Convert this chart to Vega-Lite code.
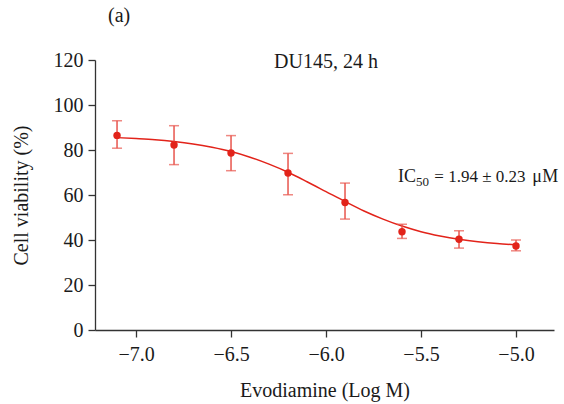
{
  "$schema": "https://vega.github.io/schema/vega-lite/v6.json",
  "width": 459,
  "height": 270,
  "autosize": {"type": "none"},
  "padding": {"left": 95, "top": 60, "right": 10, "bottom": 74},
  "background": "white",
  "config": {
    "view": {"stroke": null},
    "font": "Liberation Serif",
    "axis": {
      "labelFont": "Liberation Serif",
      "titleFont": "Liberation Serif",
      "labelFontSize": 20,
      "titleFontSize": 20,
      "titleFontWeight": "normal",
      "labelColor": "#1a1a1a",
      "titleColor": "#1a1a1a",
      "domainColor": "#333333",
      "tickColor": "#333333",
      "domainWidth": 1.3,
      "tickWidth": 1.3,
      "tickSize": 7,
      "grid": false
    }
  },
  "title": {
    "text": "(a)",
    "anchor": "start",
    "frame": "group",
    "dx": 13,
    "offset": 24,
    "font": "Liberation Serif",
    "fontSize": 20,
    "fontWeight": "normal",
    "color": "#1a1a1a"
  },
  "datasets": {
    "points": [
      {"logc": -7.1, "viability": 86.5, "lo": 80.8, "hi": 93.0},
      {"logc": -6.8, "viability": 82.2, "lo": 73.5, "hi": 90.8},
      {"logc": -6.5, "viability": 78.7, "lo": 70.8, "hi": 86.4},
      {"logc": -6.2, "viability": 69.8, "lo": 60.1, "hi": 78.5},
      {"logc": -5.9, "viability": 56.7, "lo": 49.3, "hi": 65.3},
      {"logc": -5.6, "viability": 43.7, "lo": 40.7, "hi": 47.0},
      {"logc": -5.3, "viability": 40.3, "lo": 36.4, "hi": 44.1},
      {"logc": -5.0, "viability": 37.3, "lo": 35.2, "hi": 40.0}
    ],
    "curve": [
      {"logc": -7.1, "fit": 85.5},
      {"logc": -7.0, "fit": 85.1},
      {"logc": -6.9, "fit": 84.6},
      {"logc": -6.8, "fit": 83.8},
      {"logc": -6.7, "fit": 82.7},
      {"logc": -6.6, "fit": 81.2},
      {"logc": -6.5, "fit": 79.3},
      {"logc": -6.4, "fit": 76.8},
      {"logc": -6.3, "fit": 73.7},
      {"logc": -6.2, "fit": 70.1},
      {"logc": -6.1, "fit": 65.9},
      {"logc": -6.0, "fit": 61.5},
      {"logc": -5.9, "fit": 57.1},
      {"logc": -5.8, "fit": 52.9},
      {"logc": -5.7, "fit": 49.3},
      {"logc": -5.6, "fit": 46.2},
      {"logc": -5.5, "fit": 43.7},
      {"logc": -5.4, "fit": 41.8},
      {"logc": -5.3, "fit": 40.3},
      {"logc": -5.2, "fit": 39.2},
      {"logc": -5.1, "fit": 38.4},
      {"logc": -5.0, "fit": 37.9}
    ]
  },
  "layer": [
    {
      "data": {"name": "curve"},
      "mark": {"type": "line", "color": "#e2231a", "strokeWidth": 1.5, "interpolate": "monotone"},
      "encoding": {
        "x": {
          "field": "logc", "type": "quantitative",
          "scale": {"domain": [-7.216, -4.8], "nice": false, "zero": false},
          "axis": {
            "title": "Evodiamine (Log M)",
            "values": [-7, -6.5, -6, -5.5, -5],
            "format": ".1f",
            "labelPadding": 7,
            "titlePadding": 16
          }
        },
        "y": {
          "field": "fit", "type": "quantitative",
          "scale": {"domain": [0, 120], "nice": false},
          "axis": {
            "title": "Cell viability (%)",
            "values": [0, 20, 40, 60, 80, 100, 120],
            "labelPadding": 5,
            "titlePadding": 22
          }
        }
      }
    },
    {
      "data": {"name": "points"},
      "mark": {"type": "rule", "color": "#e8554d", "strokeWidth": 1.5},
      "encoding": {
        "x": {"field": "logc", "type": "quantitative"},
        "y": {"field": "lo", "type": "quantitative"},
        "y2": {"field": "hi"}
      }
    },
    {
      "data": {"name": "points"},
      "mark": {"type": "tick", "color": "#e8554d", "thickness": 1.5, "size": 10, "orient": "horizontal"},
      "encoding": {
        "x": {"field": "logc", "type": "quantitative"},
        "y": {"field": "lo", "type": "quantitative"}
      }
    },
    {
      "data": {"name": "points"},
      "mark": {"type": "tick", "color": "#e8554d", "thickness": 1.5, "size": 10, "orient": "horizontal"},
      "encoding": {
        "x": {"field": "logc", "type": "quantitative"},
        "y": {"field": "hi", "type": "quantitative"}
      }
    },
    {
      "data": {"name": "points"},
      "mark": {"type": "point", "filled": true, "color": "#e2231a", "opacity": 1, "size": 55},
      "encoding": {
        "x": {"field": "logc", "type": "quantitative"},
        "y": {"field": "viability", "type": "quantitative"}
      }
    },
    {
      "data": {"values": [{"x": -6.0, "y": 116.4, "label": "DU145, 24 h"}]},
      "mark": {"type": "text", "font": "Liberation Serif", "fontSize": 20, "color": "#1a1a1a", "align": "center", "baseline": "alphabetic"},
      "encoding": {
        "x": {"field": "x", "type": "quantitative"},
        "y": {"field": "y", "type": "quantitative"},
        "text": {"field": "label"}
      }
    },
    {
      "data": {"values": [
        {"x": -5.621, "y": 65.9, "label": "IC", "size": 18, "style": "normal"},
        {"x": -5.526, "y": 64.1, "label": "50", "size": 13, "style": "normal"},
        {"x": -5.43, "y": 65.9, "label": "= 1.94 ± 0.23", "size": 17, "style": "normal"},
        {"x": -4.915, "y": 65.9, "label": "μ", "size": 18, "style": "italic"},
        {"x": -4.862, "y": 65.9, "label": "M", "size": 18, "style": "normal"}
      ]},
      "mark": {"type": "text", "font": "Liberation Serif", "color": "#1a1a1a", "align": "left", "baseline": "alphabetic"},
      "encoding": {
        "x": {"field": "x", "type": "quantitative"},
        "y": {"field": "y", "type": "quantitative"},
        "text": {"field": "label"},
        "size": {"field": "size", "type": "quantitative", "scale": null, "legend": null},
        "fontStyle": {"field": "style", "type": "nominal", "scale": null, "legend": null}
      }
    }
  ]
}
